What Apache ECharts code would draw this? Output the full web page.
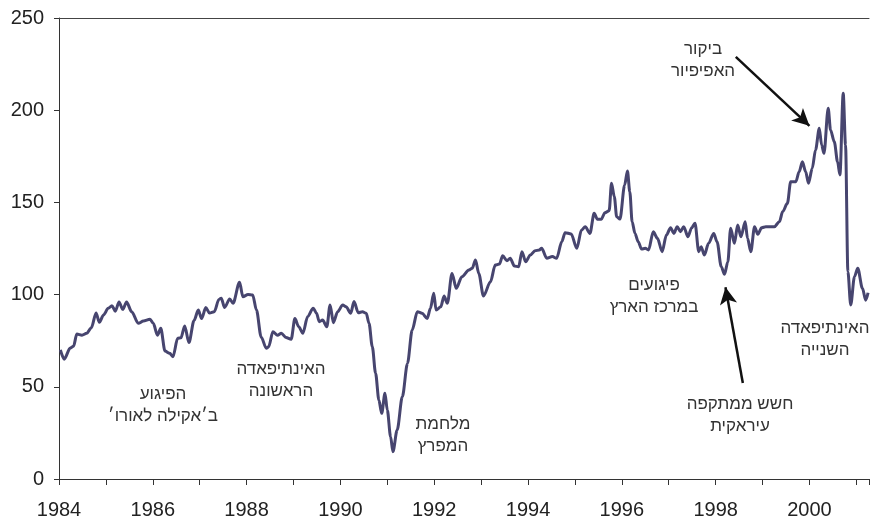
<!DOCTYPE html>
<html>
<head>
<meta charset="utf-8">
<script src="https://cdn.jsdelivr.net/npm/echarts@6/dist/echarts.min.js"></script>
<style>
  html, body { margin: 0; padding: 0; background: #fff; }
  #chart { width: 872px; height: 523px; }
</style>
</head>
<body>
<div id="chart"></div>
<script>
// מדד (נקודות שנקראו מהגרף), ציר x בשנים עשרוניות
const years = [
  1984.03, 1984.11, 1984.24, 1984.31, 1984.38, 1984.49, 1984.59, 1984.69, 1984.79, 1984.86, 1984.95,
  1985.05, 1985.13, 1985.20, 1985.28, 1985.36, 1985.44, 1985.55, 1985.69, 1985.80, 1985.94,
  1986.01, 1986.10, 1986.17, 1986.26, 1986.36, 1986.43, 1986.53, 1986.60, 1986.68, 1986.77, 1986.88, 1986.97,
  1987.04, 1987.13, 1987.21, 1987.31, 1987.41, 1987.46, 1987.53, 1987.64, 1987.71, 1987.85, 1987.92,
  1988.03, 1988.13, 1988.21, 1988.31, 1988.42, 1988.47, 1988.56, 1988.66, 1988.74, 1988.84, 1988.95,
  1989.03, 1989.11, 1989.20, 1989.30, 1989.42, 1989.49, 1989.55, 1989.62, 1989.71, 1989.78, 1989.85, 1989.94,
  1990.05, 1990.12, 1990.22, 1990.29, 1990.38, 1990.47, 1990.55, 1990.61, 1990.68, 1990.75, 1990.82, 1990.88, 1990.95,
  1991.00, 1991.07, 1991.12, 1991.21, 1991.32, 1991.43, 1991.53, 1991.64, 1991.74, 1991.85, 1991.92, 1991.99,
  1992.04, 1992.14, 1992.21, 1992.28, 1992.38, 1992.47, 1992.59, 1992.74, 1992.81, 1992.88, 1992.95,
  1993.05, 1993.20, 1993.30, 1993.39, 1993.46, 1993.55, 1993.62, 1993.71, 1993.80, 1993.87, 1993.95,
  1994.05, 1994.15, 1994.24, 1994.29, 1994.40, 1994.52, 1994.61, 1994.72, 1994.79, 1994.92,
  1995.04, 1995.14, 1995.22, 1995.32, 1995.41, 1995.48, 1995.56, 1995.64, 1995.73, 1995.78, 1995.84, 1995.89, 1995.96,
  1996.06, 1996.12, 1996.17, 1996.22, 1996.28, 1996.35, 1996.42, 1996.50, 1996.57, 1996.67, 1996.76, 1996.86, 1996.95,
  1997.04, 1997.11, 1997.18, 1997.25, 1997.32, 1997.41, 1997.49, 1997.56, 1997.64, 1997.69, 1997.76, 1997.85, 1997.96,
  1998.03, 1998.12, 1998.19, 1998.26, 1998.32, 1998.40, 1998.47, 1998.54, 1998.63, 1998.68, 1998.75, 1998.83, 1998.90, 1998.98,
  1999.07, 1999.25, 1999.36, 1999.43, 1999.53, 1999.60, 1999.71, 1999.78, 1999.85, 1999.92, 1999.98,
  2000.06, 2000.13, 2000.21, 2000.26, 2000.31, 2000.40, 2000.45, 2000.53, 2000.60, 2000.65, 2000.72, 2000.77, 2000.82, 2000.88, 2000.96,
  2001.03, 2001.13, 2001.20, 2001.25
];

const values = [
  70, 65, 71, 72, 78.6, 78, 79, 82, 90, 85, 89,
  92.6, 94, 91, 96, 92, 96, 90.7, 84.4, 85.7, 86.6,
  84.4, 78, 81.7, 69.4, 68.2, 66.3, 76.3, 76.6, 83, 74, 86, 91.6,
  87, 93, 90, 90.7, 97.4, 98, 93, 97.6, 95.3, 106.7, 98.9,
  100, 99.8, 91.6, 77, 70.9, 71.7, 79.9, 78, 79, 76.8, 75.8,
  87, 82.6, 79, 88, 92.6, 89.9, 85.3, 86.2, 82.6, 94.4, 84.8, 90.7,
  94.4, 93.4, 89.9, 96.2, 90.2, 90.7, 89.9, 84.4, 71.7, 57.3, 42.8, 35.6, 46.5,
  37.4, 22.9, 14.8, 26.6, 44.6, 62.7, 80.8, 90.7, 89.9, 87.1, 92.6, 100.7,
  91.6, 93.4, 99.2, 95.3, 111.5, 103.4, 109.7, 113.3, 114.3, 118.8, 111.5,
  99.2, 107, 116, 116.6, 121.1, 118.4, 119.7, 115.5, 115.1, 123.3, 117.8,
  121.5, 123.8, 124.2, 125.1, 119.7, 120.6, 119.7, 128.7, 133.6, 132.9,
  125.1, 135, 136.8, 133.2, 144.1, 140.8, 140.8, 144.4, 145.5, 160.4, 153.1, 142.2, 141,
  159.4, 167, 155.8, 139.5, 133.2, 128.7, 124.7, 125.1, 124.2, 134.1, 130.5, 123.3, 132.3,
  136.3, 133.2, 136.8, 134.1, 136.8, 131.4, 136.3, 138.7, 123.3, 126, 121.5, 127.8, 133.2,
  128.7, 115.1, 111, 117.8, 136, 127.8, 137.7, 131.4, 139.5, 130.5, 123.3, 136.8, 132.7, 136.3,
  136.8, 136.8, 139.5, 145, 149.5, 161.2, 161.2, 166.6, 172, 166.6, 160.4,
  168.5, 178.4, 190.2, 181.1, 176.6, 201, 189.3, 182.9, 172, 164.9, 209.2, 181.1, 112.4, 94.4, 109.7,
  114.3, 103.4, 97, 101
];

// הערות טקסט
const noteTexts = [
  'הפיגוע\nב׳אקילה לאורו׳',
  'האינתיפאדה\nהראשונה',
  'מלחמת\nהמפרץ',
  'פיגועים\nבמרכז הארץ',
  'חשש ממתקפה\nעיראקית',
  'ביקור\nהאפיפיור',
  'האינתיפאדה\nהשנייה'
];
const notePos = [[163, 405], [281, 380], [443, 435], [654, 296], [740, 415], [703, 60], [825, 339]];

// חיצים: [שנה, ערך] התחלה -> סוף
const arrows = [
  [[1998.43, 228.9], [2000.00, 191.5]],
  [[1998.58, 52.1], [1998.21, 104]]
];

const X_MIN = 1984, X_MAX = 2001.27;
const FONT = '"Liberation Sans", Arial, sans-serif';

const chart = echarts.init(document.getElementById('chart'), null, { renderer: 'canvas' });

chart.setOption({
  animation: false,
  backgroundColor: '#fff',
  grid: { left: 59, right: 0, top: 18, bottom: 44 },
  xAxis: [
    {
      type: 'value',
      min: X_MIN,
      max: X_MAX,
      interval: 1,
      axisLine: { show: true, onZero: false, lineStyle: { color: '#333', width: 1 } },
      axisTick: { show: true, length: 6, lineStyle: { color: '#333' } },
      axisLabel: {
        margin: 21,
        fontSize: 20,
        fontFamily: FONT,
        color: '#222',
        formatter: v => (Math.abs(v - Math.round(v)) < 1e-6 && Math.round(v) % 2 === 0) ? String(Math.round(v)) : ''
      },
      splitLine: { show: false }
    },
    {
      type: 'value',
      position: 'top',
      min: X_MIN,
      max: X_MAX,
      axisLine: { show: true, onZero: false, lineStyle: { color: '#444', width: 1 } },
      axisTick: { show: false },
      axisLabel: { show: false },
      splitLine: { show: false }
    }
  ],
  yAxis: {
    type: 'value',
    min: 0,
    max: 250,
    interval: 50,
    axisLine: { show: true, onZero: false, lineStyle: { color: '#333', width: 1 } },
    axisTick: { show: true, length: 5, lineStyle: { color: '#333' } },
    axisLabel: { margin: 15, fontSize: 20, fontFamily: FONT, color: '#222' },
    splitLine: { show: false }
  },
  series: [{
    type: 'line',
    data: years.map((y, i) => [y, values[i]]),
    showSymbol: false,
    smooth: 0.3,
    smoothMonotone: 'x',
    lineStyle: { color: '#47456f', width: 3 },
    markLine: {
      silent: true,
      symbol: ['none', 'arrow'],
      symbolSize: [13, 17],
      label: { show: false },
      lineStyle: { color: '#111', width: 2.5, type: 'solid' },
      data: arrows.map(a => [{ coord: a[0] }, { coord: a[1] }])
    }
  }],
  graphic: noteTexts.map((t, i) => ({
    type: 'text',
    x: notePos[i][0],
    y: notePos[i][1],
    silent: true,
    style: {
      text: t,
      font: '17px ' + FONT,
      fill: '#333',
      align: 'center',
      verticalAlign: 'middle',
      lineHeight: 22
    }
  }))
});
</script>
</body>
</html>
